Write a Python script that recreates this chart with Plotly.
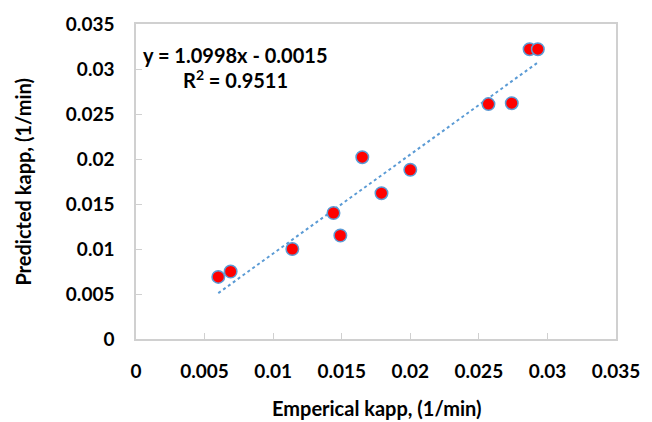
import plotly.graph_objects as go

# Data
empirical = [0.0060, 0.0069, 0.0114, 0.0144, 0.0149, 0.0165, 0.0179, 0.0200, 0.0257, 0.0274, 0.0287, 0.0293]
predicted = [0.0069, 0.0075, 0.0100, 0.0140, 0.0115, 0.0202, 0.0162, 0.0188, 0.0261, 0.0262, 0.0322, 0.0322]

slope = 1.0998
intercept = -0.0015
r_squared = 0.9511

tick_vals = [0, 0.005, 0.01, 0.015, 0.02, 0.025, 0.03, 0.035]
tick_text = ["0", "0.005", "0.01", "0.015", "0.02", "0.025", "0.03", "0.035"]

x_title = "Emperical kapp, (1/min)"
y_title = "Predicted kapp, (1/min)"

FONT = "Lato"
AXIS_COLOR = "#D0D0D0"
BLUE = "#5B9BD5"

trend_x = [min(empirical), max(empirical)]
trend_y = [slope * v + intercept for v in trend_x]

fig = go.Figure()
fig.add_trace(go.Scatter(
    x=trend_x, y=trend_y, mode="lines",
    line=dict(color=BLUE, width=2, dash="dot"),
    hoverinfo="skip", showlegend=False,
))
fig.add_trace(go.Scatter(
    x=empirical, y=predicted, mode="markers",
    marker=dict(size=12.5, color="#FF0000", line=dict(color=BLUE, width=1.5)),
    showlegend=False,
))

axis_common = dict(
    range=[0, 0.035],
    tickvals=tick_vals,
    ticktext=tick_text,
    showgrid=False,
    zeroline=False,
    showline=True,
    linecolor=AXIS_COLOR,
    linewidth=1.5,
    mirror=True,
    ticks="inside",
    ticklen=6,
    tickwidth=1,
    tickcolor=AXIS_COLOR,
    tickfont=dict(family=FONT, size=19, color="#000000", weight="bold"),
)

fig.update_xaxes(ticklabelstandoff=14, **axis_common)
fig.update_yaxes(ticklabelstandoff=16, **axis_common)

eq_text = f"y = {slope:.4f}x - {abs(intercept):.4f}"
r2_text = f"R<sup>2</sup> = {r_squared:.4f}"

fig.update_layout(
    width=652, height=422,
    margin=dict(l=136, r=26, t=21, b=83),
    paper_bgcolor="white",
    plot_bgcolor="white",
    font=dict(family=FONT, color="#000000"),
    annotations=[
        dict(text=eq_text, xref="paper", yref="paper", x=0.2065, y=0.901,
             xanchor="center", yanchor="middle", showarrow=False,
             font=dict(family=FONT, size=20, color="#000000", weight="bold")),
        dict(text=r2_text, xref="paper", yref="paper", x=0.2075, y=0.825,
             xanchor="center", yanchor="middle", showarrow=False,
             font=dict(family=FONT, size=20, color="#000000", weight="bold")),
        dict(text=x_title, xref="paper", yref="paper", x=0.5, y=-0.2187,
             xanchor="center", yanchor="middle", showarrow=False,
             font=dict(family=FONT, size=20, color="#000000", weight="bold")),
        dict(text=y_title, xref="paper", yref="paper", x=-0.2373, y=0.5,
             xanchor="center", yanchor="middle", showarrow=False, textangle=-90,
             font=dict(family=FONT, size=20, color="#000000", weight="bold")),
    ],
)

fig.write_html("out.html")
